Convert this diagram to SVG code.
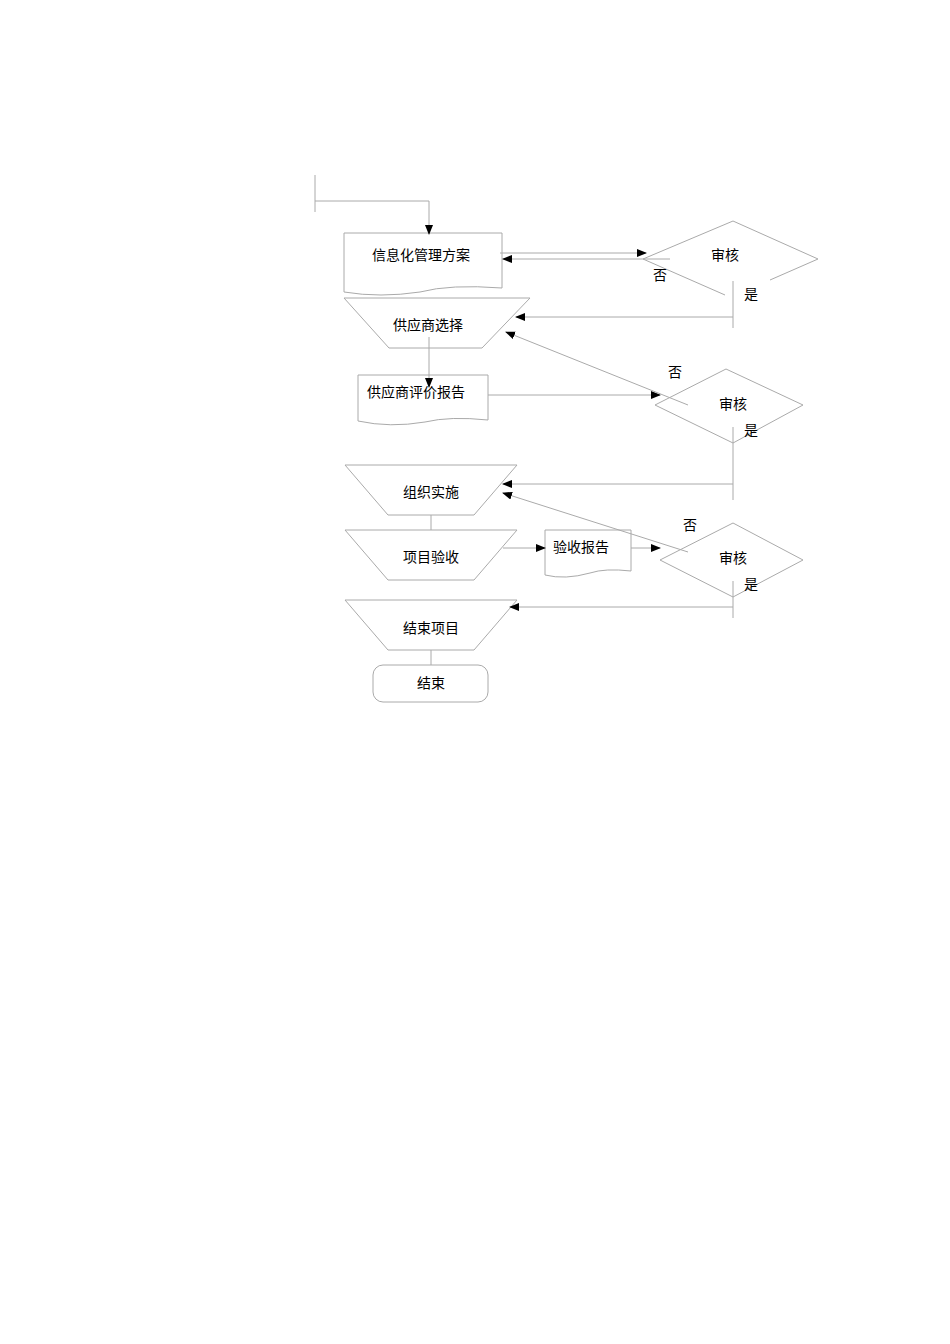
<svg xmlns="http://www.w3.org/2000/svg" width="950" height="1344" viewBox="0 0 950 1344">
<style>
.s{fill:#fff;stroke:#aaa;stroke-width:1}
.c{fill:none;stroke:#aaa;stroke-width:1}
text{font-family:"Liberation Serif","Noto Sans CJK SC",serif;font-size:14px;fill:#000;text-anchor:middle}
</style>
<defs><marker id="a" markerWidth="10" markerHeight="8" refX="9" refY="4" orient="auto" markerUnits="userSpaceOnUse"><path d="M0,0L10,4L0,8Z" fill="#000"/></marker></defs>
<rect width="950" height="1344" fill="#fff"/>
<g id="n1"><path class="s" d="M344,233H502V288Q450,284 420,292Q380,298 344,292Z"/><text x="421" y="260">信息化管理方案</text></g>
<g id="d1"><path class="c" d="M643,259L733,221L818,259L770,280M643,259L725,295"/><text x="725" y="260">审核</text><text x="660" y="280">否</text><text x="751" y="299">是</text></g>
<g id="n2"><path class="s" d="M344,298H530L482,348H389Z"/><text x="428" y="330">供应商选择</text></g>
<g id="n3"><path class="s" d="M358,375H488V420Q450,416 425,422Q390,428 358,421Z"/><text x="416" y="397">供应商评价报告</text></g>
<g id="d2"><path class="s" d="M655,405L726,369L803,405L733,443Z"/><text x="733" y="409">审核</text><text x="675" y="377">否</text><text x="751" y="435">是</text></g>
<g id="n4"><path class="s" d="M345,465H517L474,515H388Z"/><text x="431" y="497">组织实施</text></g>
<g id="n5"><path class="s" d="M345,530H517L474,580H388Z"/><text x="431" y="562">项目验收</text></g>
<g id="n6"><path class="s" d="M545,530H631V571Q605,568 590,573Q565,580 545,575Z"/><text x="581" y="552">验收报告</text></g>
<g id="d3"><path class="s" d="M660,560L733,523L803,560L733,597Z"/><text x="733" y="563">审核</text><text x="690" y="530">否</text><text x="751" y="589">是</text></g>
<g id="n7"><path class="s" d="M345,600H517L474,650H388Z"/><text x="431" y="633">结束项目</text></g>
<g id="n8"><rect class="s" x="373" y="665" width="115" height="37" rx="10"/><text x="431" y="688">结束</text></g>
<g id="connectors">
<path class="c" d="M315,175V212M315,201H429V234" marker-end="url(#a)"/>
<path class="c" d="M500,253H646" marker-end="url(#a)"/>
<path class="c" d="M670,259H503" marker-end="url(#a)"/>
<path class="c" d="M733,281V328M733,317H516" marker-end="url(#a)"/>
<path class="c" d="M429,337V387" marker-end="url(#a)"/>
<path class="c" d="M488,395H660" marker-end="url(#a)"/>
<path class="c" d="M688,405L506,332" marker-end="url(#a)"/>
<path class="c" d="M733,427V500M733,484H503" marker-end="url(#a)"/>
<path class="c" d="M688,552L503,493" marker-end="url(#a)"/>
<path class="c" d="M431,515V530"/>
<path class="c" d="M503,548H545" marker-end="url(#a)"/>
<path class="c" d="M631,548H660" marker-end="url(#a)"/>
<path class="c" d="M733,581V618M733,607H510" marker-end="url(#a)"/>
<path class="c" d="M431,650V665"/>
</g>
</svg>
